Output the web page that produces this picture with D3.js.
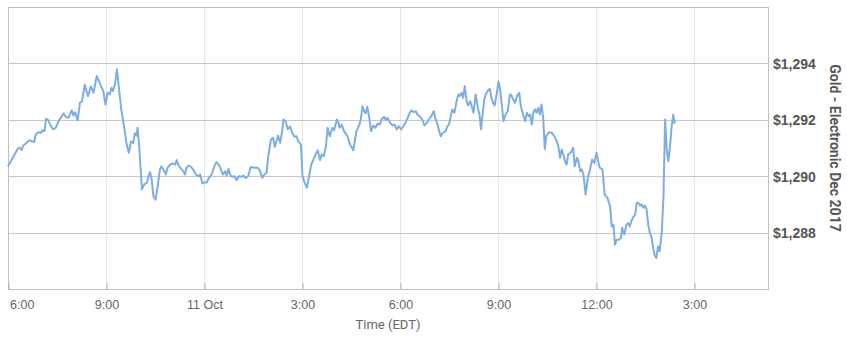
<!DOCTYPE html>
<html>
<head>
<meta charset="utf-8">
<script src="https://cdn.jsdelivr.net/npm/d3@7"></script>
<style>
  html, body { margin: 0; padding: 0; background: #fff; }
  svg { display: block; font-family: Roboto, "Open Sans", sans-serif; }
</style>
</head>
<body>
<svg id="chart" width="847" height="351"></svg>
<script>
// ---- Data (Gold - Electronic Dec 2017, Oct 10 18:00 -> Oct 11, EDT) ----
const times = ["18:00","18:07","18:12","18:18","18:22","18:25","18:28","18:34","18:39","18:44","18:48","18:51","18:56","19:01","19:03","19:07","19:10","19:14","19:19","19:23","19:28","19:32","19:39","19:42","19:46","19:51","19:54","19:57","20:00","20:03","20:08","20:12","20:16","20:21","20:25","20:27","20:32","20:37","20:43","20:47","20:52","20:55","20:59","21:03","21:07","21:10","21:13","21:17","21:20","21:24","21:28","21:30","21:34","21:38","21:42","21:46","21:50","21:53","21:56","21:58","22:01","22:06","22:10","22:15","22:18","22:21","22:24","22:27","22:31","22:35","22:39","22:42","22:47","22:50","22:53","22:58","23:02","23:07","23:10","23:13","23:18","23:22","23:25","23:28","23:31","23:36","23:40","23:45","23:50","23:53","23:57","00:01","00:05","00:09","00:14","00:19","00:23","00:28","00:31","00:35","00:39","00:42","00:45","00:48","00:51","00:56","01:00","01:04","01:09","01:12","01:17","01:21","01:26","01:32","01:39","01:43","01:47","01:51","01:55","01:58","02:03","02:07","02:10","02:14","02:16","02:20","02:24","02:26","02:30","02:34","02:38","02:42","02:46","02:50","02:53","02:58","03:01","03:04","03:09","03:13","03:17","03:21","03:25","03:29","03:33","03:36","03:40","03:44","03:47","03:51","03:56","03:59","04:04","04:07","04:09","04:13","04:17","04:20","04:24","04:28","04:31","04:34","04:37","04:40","04:45","04:48","04:51","04:54","04:57","05:00","05:03","05:07","05:11","05:15","05:19","05:23","05:26","05:31","05:34","05:37","05:42","05:46","05:50","05:54","05:58","06:02","06:06","06:10","06:14","06:18","06:21","06:25","06:29","06:32","06:37","06:41","06:45","06:49","06:53","06:58","07:02","07:05","07:09","07:12","07:15","07:19","07:24","07:27","07:30","07:34","07:36","07:40","07:44","07:47","07:50","07:53","07:56","07:59","08:02","08:05","08:09","08:12","08:15","08:19","08:23","08:26","08:29","08:31","08:35","08:39","08:42","08:45","08:48","08:51","08:54","08:58","09:01","09:04","09:07","09:10","09:14","09:18","09:22","09:25","09:28","09:31","09:35","09:39","09:42","09:46","09:50","09:53","09:56","09:59","10:02","10:05","10:08","10:11","10:14","10:17","10:20","10:23","10:26","10:29","10:34","10:39","10:43","10:48","10:51","10:54","10:57","11:00","11:03","11:06","11:09","11:14","11:18","11:21","11:25","11:27","11:31","11:34","11:37","11:41","11:45","11:49","11:53","11:57","12:01","12:04","12:07","12:12","12:16","12:21","12:26","12:29","12:32","12:35","12:38","12:42","12:46","12:48","12:52","12:56","12:59","13:02","13:06","13:09","13:12","13:15","13:18","13:21","13:24","13:27","13:30","13:33","13:36","13:39","13:42","13:45","13:48","13:51","13:54","13:57","14:01","14:04","14:07","14:10","14:13","14:16","14:19","14:22","14:24","14:25"];
const prices = [1290.35,1290.59,1290.77,1290.97,1291.01,1290.92,1291.09,1291.18,1291.27,1291.24,1291.21,1291.48,1291.56,1291.54,1291.63,1291.60,1292.04,1291.99,1291.77,1291.66,1291.72,1291.92,1292.13,1292.23,1292.11,1292.07,1292.19,1292.34,1292.15,1292.27,1291.98,1292.60,1292.66,1293.25,1292.96,1292.84,1293.19,1292.96,1293.55,1293.37,1293.14,1293.02,1292.54,1292.96,1292.90,1293.14,1293.02,1293.31,1293.79,1293.08,1292.37,1292.13,1291.66,1291.12,1290.83,1291.24,1291.18,1291.52,1291.44,1291.72,1291.06,1289.53,1289.70,1289.77,1290.00,1290.14,1289.88,1289.29,1289.17,1289.64,1290.24,1290.35,1290.18,1290.06,1290.30,1290.41,1290.45,1290.41,1290.57,1290.38,1290.26,1290.18,1290.06,1290.30,1290.38,1290.33,1290.24,1290.06,1290.00,1290.06,1289.74,1289.79,1289.77,1289.94,1290.06,1290.35,1290.50,1290.38,1290.24,1290.06,1290.18,1290.02,1290.26,1290.06,1289.98,1290.00,1289.86,1290.00,1289.98,1290.02,1289.94,1290.00,1290.33,1290.30,1290.30,1290.18,1289.94,1290.06,1290.12,1290.71,1291.30,1291.36,1291.04,1291.30,1291.44,1291.18,1291.66,1292.01,1291.95,1291.66,1291.77,1291.54,1291.40,1291.42,1291.24,1291.12,1290.00,1289.82,1289.59,1290.00,1290.41,1290.59,1290.77,1290.92,1290.57,1290.77,1290.71,1291.06,1291.72,1291.42,1291.72,1291.63,1292.01,1291.89,1291.72,1291.83,1291.60,1291.52,1291.40,1291.12,1291.04,1290.92,1291.24,1291.60,1291.80,1292.01,1292.48,1292.31,1292.23,1292.46,1292.13,1291.60,1291.80,1291.72,1291.87,1291.83,1292.01,1292.11,1291.99,1292.07,1291.89,1291.80,1291.83,1291.66,1291.77,1291.66,1291.77,1291.89,1292.07,1292.25,1292.34,1292.27,1292.31,1292.19,1292.11,1292.01,1291.80,1291.89,1292.01,1292.15,1292.31,1292.04,1291.83,1291.60,1291.42,1291.54,1291.60,1291.77,1291.83,1292.19,1292.37,1292.25,1292.66,1292.90,1292.84,1292.96,1292.78,1293.19,1292.72,1292.51,1292.66,1292.46,1292.25,1292.90,1292.43,1292.19,1291.66,1292.07,1292.75,1292.96,1293.05,1293.10,1292.78,1292.60,1292.51,1292.96,1293.37,1293.08,1292.54,1291.95,1292.19,1292.31,1292.90,1292.86,1292.72,1292.60,1292.84,1292.96,1292.48,1292.19,1291.95,1292.25,1292.13,1292.19,1291.83,1292.25,1292.37,1292.25,1292.43,1292.19,1292.54,1292.07,1290.97,1291.44,1291.56,1291.54,1291.44,1291.24,1291.06,1290.65,1290.95,1290.77,1290.53,1290.41,1290.77,1290.85,1291.01,1290.35,1290.65,1290.59,1290.18,1290.24,1290.06,1289.35,1289.94,1290.24,1290.59,1290.47,1290.83,1290.53,1290.30,1290.24,1289.35,1289.23,1288.93,1288.22,1288.28,1287.57,1287.75,1287.75,1287.81,1288.17,1287.93,1288.28,1288.34,1288.22,1288.46,1288.56,1288.64,1289.06,1289.06,1288.96,1289.00,1288.88,1288.96,1288.82,1288.28,1287.99,1287.85,1287.46,1287.18,1287.10,1287.51,1287.34,1288.05,1289.29,1292.01,1290.95,1290.53,1291.06,1291.77,1292.19,1291.89,1292.01];

const xTickTimes = ["2017-10-10T18:00","2017-10-10T21:00","2017-10-11T00:00","2017-10-11T03:00","2017-10-11T06:00","2017-10-11T09:00","2017-10-11T12:00","2017-10-11T15:00"];
const xTickLabels = ["6:00","9:00","11 Oct","3:00","6:00","9:00","12:00","3:00"];
const yTickValues = [1288, 1290, 1292, 1294];
const yTickLabels = ["$1,288","$1,290","$1,292","$1,294"];
const xDomain = ["2017-10-10T18:00","2017-10-11T17:16"];
const yDomain = [1286, 1296];
const xTitle = "Time (EDT)";
const yTitle = "Gold - Electronic Dec 2017";

// ---- Build ----
const parse = d3.timeParse("%Y-%m-%dT%H:%M");
function toDate(hm) {
  const h = +hm.slice(0, 2);
  return parse((h >= 18 ? "2017-10-10T" : "2017-10-11T") + hm);
}
const data = times.map((t, i) => ({ t: toDate(t), v: prices[i] }));

const plot = { left: 8, right: 768, top: 7, bottom: 289 };
const svg = d3.select("#chart");

const x = d3.scaleTime().domain(xDomain.map(parse)).range([plot.left, plot.right]);
const y = d3.scaleLinear().domain(yDomain).range([plot.bottom, plot.top]);

// vertical grid
svg.append("g").selectAll("line").data(xTickTimes.map(parse)).join("line")
  .attr("x1", d => Math.round(x(d)) + 0.5).attr("x2", d => Math.round(x(d)) + 0.5)
  .attr("y1", plot.top).attr("y2", plot.bottom)
  .attr("stroke", "#e6e6e6").attr("stroke-width", 1);

// horizontal grid
svg.append("g").selectAll("line").data(yTickValues).join("line")
  .attr("x1", plot.left).attr("x2", plot.right)
  .attr("y1", d => Math.round(y(d)) + 0.5).attr("y2", d => Math.round(y(d)) + 0.5)
  .attr("stroke", "#c8c8c8").attr("stroke-width", 1);

// plot border
svg.append("rect")
  .attr("x", plot.left + 0.5).attr("y", plot.top + 0.5)
  .attr("width", plot.right - plot.left).attr("height", plot.bottom - plot.top)
  .attr("fill", "none").attr("stroke", "#c0c0c0").attr("stroke-width", 1);

// x axis ticks (inside) and labels
const xAxis = d3.axisBottom(x)
  .tickValues(xTickTimes.map(parse))
  .tickFormat((d, i) => xTickLabels[i])
  .tickSize(0).tickPadding(0);
const gx = svg.append("g").attr("transform", `translate(0.5,${plot.bottom})`).call(xAxis);
gx.select(".domain").remove();
gx.selectAll(".tick line").attr("y1", -6).attr("y2", 0).attr("stroke", "#b0b0b0");
gx.selectAll(".tick text")
  .attr("y", 20).attr("dy", 0)
  .attr("fill", "#666").attr("font-size", 12.5)
  .attr("text-anchor", (d, i) => i === 0 ? "start" : "middle")
  .attr("dx", (d, i) => i === 0 ? 1 : 0);

// y axis labels on right
const yAxis = d3.axisRight(y).tickValues(yTickValues)
  .tickFormat((d, i) => yTickLabels[i]).tickSize(0).tickPadding(0);
const gy = svg.append("g").attr("transform", `translate(${plot.right + 5},0)`).call(yAxis);
gy.select(".domain").remove();
gy.selectAll(".tick text")
  .attr("fill", "#555").attr("font-size", 14).attr("font-weight", 600)
  .attr("dy", "0.35em");

// line
const line = d3.line().x(d => x(d.t)).y(d => y(d.v));
svg.append("path").datum(data)
  .attr("d", line).attr("fill", "none")
  .attr("stroke", "#7eaee0").attr("stroke-width", 2)
  .attr("stroke-linejoin", "round");

// titles
svg.append("text").attr("x", (plot.left + plot.right) / 2 - 0).attr("y", 329)
  .attr("text-anchor", "middle").attr("fill", "#666").attr("font-size", 13)
  .text(xTitle);
svg.append("text")
  .attr("transform", `translate(830,${(plot.top + plot.bottom) / 2}) rotate(90)`)
  .attr("text-anchor", "middle").attr("fill", "#555").attr("font-size", 14)
  .attr("font-weight", 700)
  .text(yTitle);
</script>
</body>
</html>
